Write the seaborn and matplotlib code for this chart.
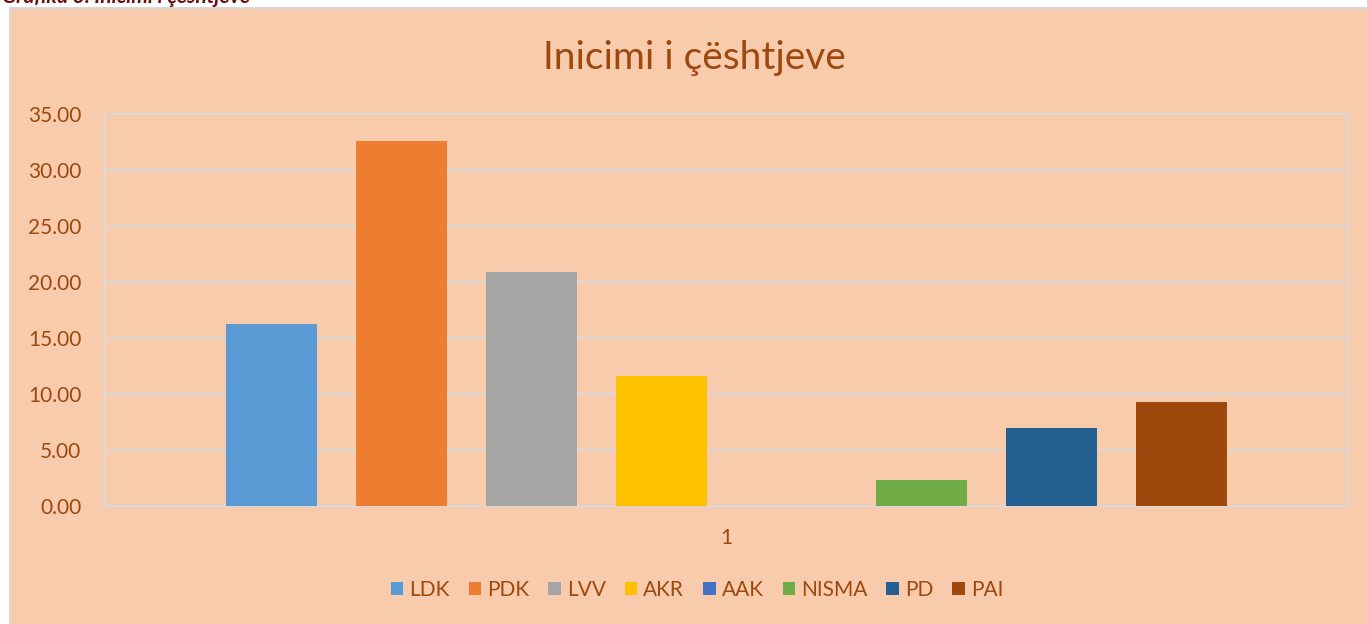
import pandas as pd
import numpy as np
import matplotlib.pyplot as plt
import matplotlib.patches as mpatches
import seaborn as sns

# ---------------- Data ----------------
parties = ["LDK", "PDK", "LVV", "AKR", "AAK", "NISMA", "PD", "PAI"]
values = [16.25, 32.60, 20.90, 11.65, 0.0, 2.30, 6.95, 9.30]
category = ["1"] * len(parties)
colors = ["#5B9BD5", "#ED7D31", "#A5A5A5", "#FFC000",
          "#4472C4", "#70AD47", "#255E91", "#9E480E"]

df = pd.DataFrame({"cat": category, "party": parties, "value": values})

# ---------------- Style ----------------
sns.set_theme(style="white")
plt.rcParams['font.family'] = ['Lato', 'DejaVu Sans']
bg = "#F8CBAD"
txt = "#9E480E"
grid_c = "#D9D9D9"

W, H = 1367, 624
fig = plt.figure(figsize=(W / 100, H / 100), dpi=100, facecolor="white")

# chart area box (behind the axes)
fig.patches.append(mpatches.Rectangle((10 / W, -0.01), 1.02, 1 - 8 / H + 0.01,
                                      transform=fig.transFigure, facecolor=bg,
                                      edgecolor=grid_c, linewidth=1.5, zorder=-5))

# cut-off caption at the very top
fig.text(2 / W, 1 - 3 / H, "Grafiku 3. Inicimi i çështjeve", ha="left", va="baseline",
         fontsize=15, fontweight="bold", fontstyle="italic", color="#6B0E0E")

ax = fig.add_axes([105 / W, (H - 506) / H, 1243 / W, 392 / H])
ax.set_facecolor(bg)

sns.barplot(data=df, x="cat", y="value", hue="party", hue_order=parties,
            palette=colors, width=0.8367, gap=0.3, saturation=1,
            linewidth=0, ax=ax, zorder=3)

ax.set_xlim(-0.5, 0.5)
ax.set_ylim(0, 35)
ax.set_yticks(np.arange(0, 36, 5))
ax.set_yticklabels([f"{v:.2f}" for v in np.arange(0, 36, 5)])
ax.yaxis.grid(True, color=grid_c, linewidth=1.5, zorder=0)
ax.set_axisbelow(True)
for s in ax.spines.values():
    s.set_color(grid_c)
    s.set_linewidth(1.5)
ax.tick_params(axis="y", length=0, pad=17, labelsize=15, labelcolor=txt)
ax.tick_params(axis="x", length=0, pad=16, labelsize=15, labelcolor=txt)
ax.set_xlabel("")
ax.set_ylabel("")

# title
fig.text(694 / W, 1 - 58 / H, "Inicimi i çështjeve", ha="center", va="center",
         fontsize=28, color=txt)

# legend
handles, labels = ax.get_legend_handles_labels()
ax.get_legend().remove()
fig.legend(handles, labels, loc="center", bbox_to_anchor=(697 / W, 1 - 590 / H),
           ncol=8, frameon=False, fontsize=15, labelcolor=txt,
           handlelength=0.6, handleheight=0.6, handletextpad=0.3,
           columnspacing=0.9)

plt.savefig("out.png", dpi=100, facecolor="white")
